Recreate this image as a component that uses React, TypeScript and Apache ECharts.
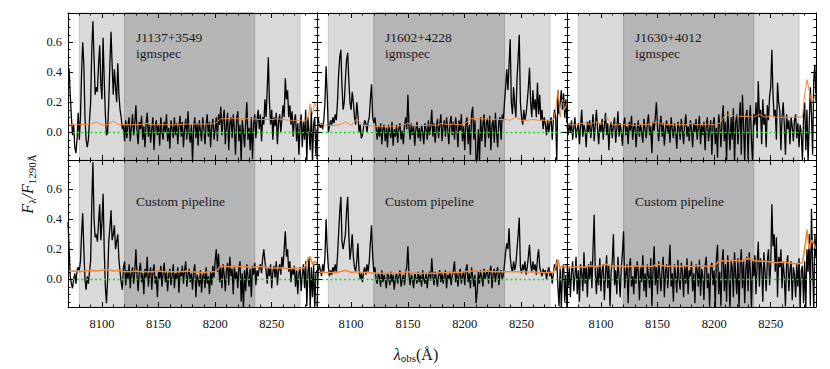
import React, { useEffect, useRef } from 'react';
import * as echarts from 'echarts';

// ---------- data ----------
const LAMBDA_MIN = 8070;
const LAMBDA_MAX = 8290;
const FLUX_STEP = 1; // Å per flux sample, starting at LAMBDA_MIN

const OBJECTS = ['J1137+3549', 'J1602+4228', 'J1630+4012'];
const SOURCES = ['igmspec', 'Custom pipeline'];

const LIGHT_BAND = [8080, 8275];
const DARK_BAND = [8120, 8235];

const X_MAJOR = [8100, 8150, 8200, 8250];
const X_MINOR = [8070, 8080, 8090, 8110, 8120, 8130, 8140, 8160, 8170, 8180, 8190, 8210, 8220, 8230, 8240, 8260, 8270, 8280, 8290];
const Y_MIN = -0.185;
const Y_MAX = 0.795;
const Y_MAJOR = [0, 0.2, 0.4, 0.6];
const Y_MINOR = [-0.15, -0.1, -0.05, 0.05, 0.1, 0.15, 0.25, 0.3, 0.35, 0.45, 0.5, 0.55, 0.65, 0.7, 0.75];

const FLUX_J1137_IGMSPEC = [
  0.43, 0.42, 0.25, 0.10, -0.02, 0.05, -0.10, -0.14, -0.05, 0.13,
  -0.05, 0.10, 0.40, 0.60, 0.45, 0.10, -0.05, -0.10, -0.05, 0.08,
  0.20, 0.55, 0.74, 0.50, 0.25, 0.30, 0.27, 0.45, 0.58, 0.32,
  0.22, 0.63, 0.35, 0.12, -0.02, 0.00, 0.20, 0.45, 0.67, 0.45,
  0.25, 0.42, 0.30, 0.20, 0.46, 0.25, 0.15, 0.10, 0.02, 0.05,
  -0.06, 0.08, -0.04, 0.05, 0.10, -0.06, 0.03, 0.12, -0.02, 0.06,
  0.18, 0.00, -0.08, 0.07, 0.02, 0.11, -0.05, 0.04, -0.10, 0.06,
  0.13, -0.03, 0.05, -0.07, 0.02, 0.10, -0.12, 0.04, 0.08, -0.02,
  0.05, -0.09, 0.10, 0.01, -0.05, 0.07, 0.00, 0.12, -0.06, 0.03,
  -0.11, 0.08, 0.02, -0.04, 0.10, -0.02, 0.06, -0.08, 0.04, 0.11,
  -0.03, 0.07, -0.10, 0.02, 0.09, -0.05, 0.14, 0.00, -0.07, 0.05,
  -0.20, 0.03, 0.10, -0.04, 0.06, -0.09, 0.08, 0.01, -0.06, 0.10,
  0.03, -0.08, 0.05, 0.12, -0.03, 0.07, -0.10, 0.04, 0.09, -0.05,
  0.02, 0.10, -0.06, 0.12, 0.05, 0.17, -0.02, 0.08, 0.15, -0.08,
  0.04, 0.13, -0.12, 0.06, 0.10, -0.04, 0.12, 0.02, -0.15, 0.09,
  0.14, -0.06, 0.05, -0.20, 0.08, 0.00, -0.10, 0.06, 0.20, -0.05,
  0.03, -0.12, 0.10, -0.18, 0.05, 0.12, -0.04, 0.08, 0.15, 0.02,
  0.12, -0.06, 0.10, 0.05, 0.22, 0.10, 0.28, 0.50, 0.20, 0.05,
  0.15, -0.05, 0.10, 0.04, 0.13, -0.08, 0.07, 0.12, 0.00, 0.09,
  0.18, 0.10, 0.36, 0.22, 0.28, 0.10, 0.18, 0.05, 0.14, -0.03,
  0.08, 0.12, -0.06, 0.06, -0.15, 0.04, 0.12, -0.10, 0.07, -0.05,
  0.15, -0.20, 0.10, 0.00, -0.12, 0.16, -0.20, 0.05, 0.10, -0.15,
  0.02,
];

const FLUX_J1602_IGMSPEC = [
  -0.18, 0.10, 0.05, 0.03, 0.06, 0.02, 0.08, 0.20, 0.44, 0.25,
  0.00, 0.04, 0.08, 0.05, 0.10, 0.06, 0.12, 0.08, 0.20, 0.38,
  0.50, 0.55, 0.30, 0.15, 0.20, 0.35, 0.48, 0.53, 0.35, 0.20,
  0.15, 0.27, 0.20, 0.10, 0.05, 0.20, 0.12, 0.00, 0.05, -0.04,
  -0.02, 0.04, 0.08, 0.06, 0.00, 0.07, 0.10, 0.22, 0.32, 0.10,
  0.06, 0.10, 0.03, -0.05, 0.04, -0.03, 0.06, -0.08, 0.02, 0.05,
  -0.06, 0.03, -0.10, 0.05, 0.00, -0.04, 0.07, -0.09, 0.02, -0.03,
  0.05, -0.07, 0.02, 0.06, -0.05, 0.01, -0.08, 0.04, 0.10, 0.02,
  0.25, 0.03, -0.05, 0.06, -0.02, 0.04, -0.09, 0.02, 0.07, -0.04,
  0.03, -0.06, 0.05, 0.00, -0.08, 0.06, 0.02, -0.05, 0.08, -0.02,
  0.04, 0.15, -0.03, 0.06, -0.07, 0.03, 0.09, -0.04, 0.05, 0.12,
  -0.06, 0.04, 0.08, -0.03, 0.10, 0.02, -0.08, 0.06, 0.11, -0.02,
  0.07, -0.05, 0.10, 0.03, -0.10, 0.08, 0.01, 0.12, -0.06, 0.04,
  -0.12, 0.06, 0.10, -0.08, 0.05, -0.15, 0.12, 0.17, -0.05, 0.08,
  -0.20, -0.18, 0.02, -0.20, 0.10, -0.06, 0.05, 0.12, -0.10, 0.06,
  0.09, -0.04, 0.11, -0.12, 0.05, 0.08, -0.07, 0.13, 0.00, -0.10,
  0.07, 0.10, -0.05, 0.12, 0.08, 0.20, 0.30, 0.42, 0.28, 0.45,
  0.62, 0.20, 0.12, 0.30, 0.18, 0.10, 0.35, 0.50, 0.65, 0.20,
  0.10, 0.05, 0.15, 0.08, 0.12, 0.20, 0.30, 0.43, 0.20, 0.10,
  0.28, 0.15, 0.22, 0.10, 0.33, 0.12, 0.25, 0.08, 0.15, 0.02,
  0.10, 0.05, -0.02, 0.08, 0.00, 0.06, 0.10, -0.05, 0.08, 0.15,
  0.10, -0.19, 0.28, 0.12, 0.20, 0.28, 0.15, 0.26, 0.10, 0.22,
  0.06,
];

const FLUX_J1630_IGMSPEC = [
  0.05, -0.02, 0.06, 0.00, 0.08, -0.05, 0.03, 0.10, -0.04, 0.02,
  0.06, -0.08, 0.04, 0.15, -0.03, 0.05, 0.01, -0.10, 0.07, 0.00,
  0.08, -0.04, 0.03, 0.12, -0.06, 0.05, 0.15, 0.02, -0.08, 0.06,
  0.00, 0.09, -0.05, 0.04, 0.13, -0.02, 0.06, -0.12, 0.03, 0.07,
  -0.04, 0.05, 0.10, -0.07, 0.02, 0.14, -0.03, 0.06, 0.00, -0.09,
  0.05, 0.10, -0.02, 0.04, -0.08, 0.07, 0.01, 0.11, -0.05, 0.03,
  0.06, -0.10, 0.02, 0.08, -0.03, 0.05, 0.00, -0.07, 0.09, 0.02,
  -0.04, 0.06, 0.12, -0.02, 0.04, -0.14, 0.07, 0.01, 0.10, 0.20,
  0.03, -0.06, 0.05, 0.11, -0.03, 0.06, -0.09, 0.02, 0.08, -0.01,
  0.05, -0.07, 0.10, 0.02, -0.04, 0.06, 0.00, -0.11, 0.07, 0.03,
  -0.05, 0.09, 0.01, -0.08, 0.05, 0.12, -0.03, 0.04, -0.06, 0.08,
  0.02, -0.10, 0.06, 0.00, 0.09, -0.05, 0.03, 0.11, -0.08, 0.05,
  -0.02, 0.07, -0.12, 0.04, 0.10, -0.06, 0.02, 0.08, -0.15, 0.05,
  0.10, -0.08, 0.03, -0.17, 0.12, 0.05, -0.10, 0.08, 0.18, -0.06,
  0.07, -0.20, 0.14, 0.02, -0.12, 0.10, -0.05, 0.16, -0.20, 0.06,
  0.12, -0.08, 0.04, 0.20, -0.15, 0.25, 0.05, -0.20, 0.10, 0.15,
  -0.18, 0.08, 0.18, -0.06, -0.20, 0.12, 0.05, 0.20, -0.04, 0.34,
  0.10, 0.15, -0.08, 0.22, 0.05, 0.12, -0.10, 0.18, 0.08, 0.24,
  0.30, 0.55, 0.25, 0.10, 0.15, -0.05, 0.33, 0.20, 0.14, -0.12,
  0.10, 0.20, 0.05, -0.15, 0.12, 0.02, 0.08, -0.08, 0.10, 0.04,
  -0.06, 0.08, 0.12, -0.04, 0.06, -0.10, 0.05, 0.00, -0.20, 0.10,
  0.20, -0.12, 0.15, -0.20, 0.05, 0.30, 0.12, -0.15, 0.35, 0.45,
  0.20,
];

const FLUX_J1137_CUSTOM = [
  0.38, 0.20, 0.02, -0.03, -0.06, 0.00, 0.04, -0.03, 0.06, 0.08,
  0.06, 0.12, 0.30, 0.44, 0.20, 0.00, -0.07, 0.02, -0.03, 0.05,
  0.12, 0.50, 0.78, 0.40, 0.28, 0.30, 0.25, 0.38, 0.50, 0.26,
  0.38, 0.57, 0.20, -0.05, -0.16, 0.00, 0.25, 0.34, 0.46, 0.26,
  0.30, 0.36, 0.20, 0.25, 0.30, 0.13, 0.05, -0.02, -0.07, 0.08,
  0.12, -0.04, 0.06, 0.00, 0.10, -0.06, 0.04, 0.08, -0.03, 0.05,
  0.20, 0.02, -0.08, 0.06, 0.11, -0.02, 0.04, -0.10, 0.07, 0.01,
  0.15, -0.05, 0.03, 0.08, -0.07, 0.05, 0.10, -0.03, 0.02, -0.12,
  0.06, 0.00, 0.09, -0.05, 0.04, 0.11, -0.02, 0.05, -0.08, 0.03,
  0.07, -0.04, 0.02, 0.10, -0.06, 0.04, 0.00, 0.08, -0.09, 0.05,
  0.02, 0.09, -0.03, 0.06, 0.12, -0.05, 0.03, 0.07, -0.02, 0.04,
  -0.07, 0.05, 0.10, -0.12, 0.03, 0.00, -0.05, 0.06, -0.09, 0.02,
  0.04, -0.06, 0.08, -0.03, 0.02, -0.10, 0.05, -0.04, 0.09, 0.01,
  0.12, 0.20, 0.05, 0.17, -0.02, 0.08, -0.06, 0.10, 0.03, -0.08,
  0.06, 0.11, -0.04, 0.15, 0.02, 0.07, -0.10, 0.09, 0.00, 0.05,
  -0.06, 0.08, 0.12, -0.15, 0.04, -0.20, 0.06, -0.08, 0.10, 0.02,
  -0.05, 0.07, -0.12, 0.09, 0.03, 0.11, -0.04, 0.06, 0.02, 0.08,
  0.10, 0.04, 0.14, 0.20, 0.12, 0.06, -0.03, 0.08, 0.02, 0.10,
  -0.06, 0.05, 0.09, 0.01, 0.12, -0.04, 0.06, 0.10, 0.03, 0.15,
  0.08, 0.20, 0.32, 0.15, 0.20, 0.05, 0.12, -0.02, 0.07, 0.03,
  0.09, -0.05, 0.06, -0.10, 0.04, 0.08, -0.08, 0.03, 0.10, -0.06,
  0.12, -0.18, 0.05, 0.14, -0.20, 0.08, -0.12, 0.10, -0.20, 0.04,
  0.06,
];

const FLUX_J1602_CUSTOM = [
  -0.18, 0.04, 0.10, 0.06, 0.02, 0.10, 0.05, 0.15, 0.40, 0.20,
  0.08, 0.02, 0.06, 0.03, 0.08, 0.05, 0.10, 0.04, 0.15, 0.30,
  0.45, 0.55, 0.25, 0.20, 0.25, 0.30, 0.45, 0.55, 0.30, 0.13,
  0.20, 0.30, 0.15, 0.08, 0.05, 0.12, 0.24, 0.06, 0.00, 0.04,
  -0.02, 0.05, 0.08, 0.03, 0.10, 0.05, 0.12, 0.25, 0.36, 0.15,
  0.05, 0.08, 0.00, -0.03, 0.04, 0.02, -0.05, 0.06, -0.02, 0.03,
  0.00, -0.06, 0.04, 0.02, -0.04, 0.05, -0.02, 0.03, -0.07, 0.01,
  0.04, -0.03, 0.02, 0.06, -0.05, 0.00, 0.03, -0.04, 0.05, 0.08,
  0.22, 0.02, -0.04, 0.03, 0.00, -0.06, 0.04, 0.01, -0.03, 0.05,
  -0.02, 0.03, -0.05, 0.06, 0.00, -0.03, 0.04, -0.06, 0.02, 0.05,
  -0.01, 0.14, 0.02, -0.04, 0.05, 0.01, -0.05, 0.03, 0.06, -0.02,
  0.04, -0.03, 0.02, 0.06, -0.06, 0.03, 0.00, 0.05, -0.04, 0.02,
  0.06, 0.12, -0.02, 0.04, -0.05, 0.03, 0.07, -0.03, 0.02, 0.05,
  -0.04, 0.06, 0.10, -0.02, 0.04, -0.06, 0.08, 0.02, -0.05, 0.03,
  -0.16, -0.08, 0.05, -0.03, 0.06, 0.02, -0.05, 0.07, 0.00, 0.04,
  0.06, -0.03, 0.05, 0.09, -0.06, 0.03, 0.07, -0.02, 0.05, 0.08,
  -0.04, 0.04, 0.06, 0.00, 0.03, 0.10, 0.18, 0.24, 0.20, 0.34,
  0.15, 0.08, 0.05, 0.12, 0.06, 0.10, 0.20, 0.30, 0.41, 0.08,
  0.04, 0.10, 0.06, 0.12, 0.03, 0.08, 0.15, 0.23, 0.10, 0.05,
  0.12, 0.06, 0.10, 0.03, 0.14, 0.20, 0.08, 0.05, 0.02, 0.07,
  0.04, 0.06, 0.00, 0.05, 0.08, 0.02, 0.05, -0.03, 0.04, 0.10,
  0.06, 0.13, -0.05, -0.18, 0.08, -0.20, 0.05, 0.10, -0.15, 0.03,
  -0.20,
];

const FLUX_J1630_CUSTOM = [
  0.10, -0.05, 0.08, -0.12, 0.05, 0.12, -0.08, 0.02, 0.15, -0.10,
  0.06, -0.15, 0.10, 0.04, -0.08, 0.18, -0.03, 0.08, -0.12, 0.10,
  0.00, 0.12, -0.06, 0.20, 0.43, 0.05, -0.10, 0.08, -0.04, 0.14,
  -0.08, 0.06, 0.10, -0.14, 0.03, 0.16, -0.06, 0.09, -0.18, 0.05,
  0.12, 0.30, -0.04, 0.06, -0.10, 0.15, 0.02, -0.12, 0.08, 0.18,
  0.32, -0.06, 0.04, 0.10, -0.16, 0.07, 0.14, -0.05, 0.02, -0.10,
  0.09, -0.03, 0.12, 0.05, -0.14, 0.08, -0.02, 0.16, -0.08, 0.04,
  -0.12, 0.10, 0.02, -0.06, 0.14, -0.18, 0.06, 0.22, -0.04, 0.08,
  -0.10, 0.12, 0.03, -0.08, 0.06, 0.15, -0.12, 0.05, 0.10, -0.06,
  0.08, 0.23, -0.05, 0.04, -0.15, 0.10, 0.02, -0.09, 0.13, 0.00,
  -0.07, 0.11, 0.05, -0.12, 0.09, -0.03, 0.14, -0.10, 0.06, 0.02,
  0.12, -0.08, 0.04, -0.16, 0.10, 0.06, -0.05, 0.13, -0.11, 0.07,
  0.02, -0.14, 0.09, 0.15, -0.06, 0.04, -0.19, 0.08, 0.11, -0.04,
  0.06, -0.20, 0.14, 0.23, -0.10, 0.05, -0.18, 0.12, 0.20, -0.08,
  0.10, -0.15, 0.16, 0.04, -0.20, 0.12, 0.08, -0.12, 0.18, 0.02,
  -0.10, 0.14, -0.20, 0.09, 0.20, -0.06, 0.12, -0.16, 0.07, 0.15,
  -0.08, 0.18, 0.05, -0.20, 0.12, 0.02, 0.16, -0.10, 0.10, 0.25,
  -0.05, 0.14, 0.08, -0.15, 0.18, 0.04, -0.08, 0.12, 0.20, -0.04,
  0.10, 0.50, 0.22, 0.30, 0.05, 0.28, -0.12, 0.15, 0.08, 0.20,
  -0.06, 0.12, 0.02, -0.18, 0.10, 0.16, -0.08, 0.06, 0.12, -0.14,
  0.08, 0.03, -0.12, 0.10, -0.05, 0.14, -0.20, 0.06, 0.09, -0.16,
  0.12, -0.20, 0.20, 0.05, 0.30, -0.18, 0.47, 0.10, -0.20, 0.30,
  0.15,
];

// wavelengths of the error-spectrum samples
const ERR_WAVE = [
  8070, 8075, 8080, 8085, 8090, 8095, 8100, 8105, 8110, 8115,
  8120, 8125, 8130, 8135, 8140, 8145, 8150, 8155, 8160, 8165,
  8170, 8175, 8180, 8185, 8190, 8195, 8200, 8205, 8210, 8215,
  8220, 8225, 8230, 8235, 8240, 8245, 8250, 8255, 8260, 8265,
  8270, 8275, 8278, 8280, 8282, 8284, 8286, 8288, 8290,
];

const ERR_J1137_IGMSPEC = [
  0.05, 0.05, 0.05, 0.052, 0.055, 0.07, 0.05, 0.05, 0.075, 0.05,
  0.05, 0.05, 0.05, 0.052, 0.06, 0.05, 0.05, 0.05, 0.05, 0.05,
  0.052, 0.055, 0.055, 0.055, 0.055, 0.055, 0.058, 0.09, 0.09, 0.095,
  0.09, 0.09, 0.09, 0.088, 0.085, 0.085, 0.085, 0.09, 0.085, 0.08,
  0.08, 0.08, 0.08, 0.08, 0.09, 0.19, 0.12, 0.2, 0.15,
];
const ERR_J1602_IGMSPEC = [
  0.06, 0.05, 0.045, 0.045, 0.05, 0.07, 0.045, 0.09, 0.045, 0.045,
  0.04, 0.04, 0.04, 0.04, 0.04, 0.045, 0.06, 0.045, 0.045, 0.045,
  0.05, 0.045, 0.06, 0.05, 0.055, 0.05, 0.055, 0.09, 0.09, 0.09,
  0.088, 0.088, 0.085, 0.085, 0.08, 0.1, 0.08, 0.08, 0.085, 0.08,
  0.08, 0.08, 0.08, 0.15, 0.28, 0.1, 0.22, 0.15, 0.2,
];
const ERR_J1630_IGMSPEC = [
  0.05, 0.048, 0.05, 0.065, 0.05, 0.07, 0.05, 0.1, 0.05, 0.05,
  0.05, 0.05, 0.045, 0.05, 0.05, 0.06, 0.07, 0.05, 0.05, 0.05,
  0.05, 0.05, 0.06, 0.05, 0.05, 0.055, 0.05, 0.06, 0.12, 0.11,
  0.11, 0.105, 0.105, 0.1, 0.12, 0.1, 0.11, 0.1, 0.1, 0.1,
  0.1, 0.1, 0.1, 0.25, 0.35, 0.28, 0.2, 0.22, 0.26,
];
const ERR_J1137_CUSTOM = [
  0.05, 0.055, 0.05, 0.055, 0.06, 0.055, 0.06, 0.065, 0.055, 0.06,
  0.05, 0.05, 0.055, 0.05, 0.05, 0.05, 0.055, 0.05, 0.05, 0.05,
  0.05, 0.055, 0.05, 0.045, 0.045, 0.05, 0.05, 0.085, 0.085, 0.082,
  0.085, 0.085, 0.08, 0.08, 0.085, 0.08, 0.075, 0.075, 0.075, 0.07,
  0.075, 0.07, 0.075, 0.09, 0.14, 0.15, 0.1, 0.12, 0.1,
];
const ERR_J1602_CUSTOM = [
  0.05, 0.045, 0.045, 0.045, 0.05, 0.06, 0.045, 0.05, 0.045, 0.045,
  0.04, 0.04, 0.04, 0.04, 0.04, 0.045, 0.05, 0.04, 0.04, 0.04,
  0.04, 0.04, 0.045, 0.045, 0.045, 0.045, 0.05, 0.055, 0.055, 0.05,
  0.055, 0.05, 0.05, 0.05, 0.05, 0.05, 0.05, 0.048, 0.048, 0.045,
  0.045, 0.045, 0.045, 0.08, 0.13, 0.07, 0.09, 0.08, 0.1,
];
const ERR_J1630_CUSTOM = [
  0.085, 0.08, 0.085, 0.08, 0.09, 0.085, 0.09, 0.1, 0.085, 0.09,
  0.085, 0.085, 0.09, 0.085, 0.09, 0.085, 0.1, 0.09, 0.085, 0.09,
  0.085, 0.09, 0.085, 0.09, 0.09, 0.085, 0.09, 0.125, 0.12, 0.125,
  0.125, 0.12, 0.14, 0.125, 0.12, 0.12, 0.115, 0.11, 0.115, 0.11,
  0.105, 0.105, 0.11, 0.2, 0.33, 0.2, 0.26, 0.24, 0.2,
];

// ---------- layout / style ----------
const COL_LEFT = [68, 317, 567];
const COL_WIDTH = [249, 250, 249];
const ROW_TOP = [13, 160];
const ROW_HEIGHT = 147;
const SERIF = 'Liberation Serif';

const PANELS = [
  { flux: FLUX_J1137_IGMSPEC, err: ERR_J1137_IGMSPEC },
  { flux: FLUX_J1602_IGMSPEC, err: ERR_J1602_IGMSPEC },
  { flux: FLUX_J1630_IGMSPEC, err: ERR_J1630_IGMSPEC },
  { flux: FLUX_J1137_CUSTOM, err: ERR_J1137_CUSTOM },
  { flux: FLUX_J1602_CUSTOM, err: ERR_J1602_CUSTOM },
  { flux: FLUX_J1630_CUSTOM, err: ERR_J1630_CUSTOM },
];

function xAxisDef(gi: number, pos: string, ticks: number[], len: number, line: boolean, labels: boolean) {
  return {
    type: 'value', gridIndex: gi, position: pos, min: LAMBDA_MIN, max: LAMBDA_MAX, z: 10,
    axisLine: { show: line, onZero: false, lineStyle: { color: '#000', width: 1 } },
    axisTick: { show: true, inside: true, length: len, customValues: ticks, lineStyle: { color: '#000', width: 1 } },
    axisLabel: {
      show: labels, customValues: X_MAJOR, margin: 10, color: '#111', fontSize: 12.5, fontFamily: SERIF,
      formatter: (v: number) => String(Math.round(v)),
    },
    splitLine: { show: false },
  };
}
function yAxisDef(gi: number, pos: string, ticks: number[], len: number, line: boolean, labels: boolean) {
  return {
    type: 'value', gridIndex: gi, position: pos, min: Y_MIN, max: Y_MAX, z: 10,
    axisLine: { show: line, onZero: false, lineStyle: { color: '#000', width: 1 } },
    axisTick: { show: true, inside: true, length: len, customValues: ticks, lineStyle: { color: '#000', width: 1 } },
    axisLabel: {
      show: labels, customValues: Y_MAJOR, margin: 6, color: '#111', fontSize: 12.5, fontFamily: SERIF,
      formatter: (v: number) => v.toFixed(1),
    },
    splitLine: { show: false },
  };
}

function buildOption() {
  const grid: any[] = [];
  const xAxis: any[] = [];
  const yAxis: any[] = [];
  const series: any[] = [];
  const elements: any[] = [];

  PANELS.forEach((p, i) => {
    const row = Math.floor(i / 3);
    const col = i % 3;
    grid.push({ left: COL_LEFT[col], top: ROW_TOP[row], width: COL_WIDTH[col], height: ROW_HEIGHT, show: false });
    xAxis.push(xAxisDef(i, 'bottom', X_MAJOR, 5, true, row === 1));
    xAxis.push(xAxisDef(i, 'bottom', X_MINOR, 2.5, false, false));
    xAxis.push(xAxisDef(i, 'top', X_MAJOR, 5, true, false));
    xAxis.push(xAxisDef(i, 'top', X_MINOR, 2.5, false, false));
    yAxis.push(yAxisDef(i, 'left', Y_MAJOR, 5, true, col === 0));
    yAxis.push(yAxisDef(i, 'left', Y_MINOR, 2.5, false, false));
    yAxis.push(yAxisDef(i, 'right', Y_MAJOR, 5, true, false));
    yAxis.push(yAxisDef(i, 'right', Y_MINOR, 2.5, false, false));
    const ax = 4 * i;

    series.push({
      type: 'line', xAxisIndex: ax, yAxisIndex: ax, data: [], silent: true, z: 1,
      markArea: {
        silent: true,
        data: [
          [{ xAxis: LIGHT_BAND[0], itemStyle: { color: '#d9d9d9', borderColor: '#c6c6c6', borderWidth: 1 } }, { xAxis: LIGHT_BAND[1] }],
          [{ xAxis: DARK_BAND[0], itemStyle: { color: '#b5b5b5', borderColor: '#a4a4a4', borderWidth: 1 } }, { xAxis: DARK_BAND[1] }],
        ],
      },
    });
    series.push({
      type: 'line', xAxisIndex: ax, yAxisIndex: ax, silent: true, z: 3,
      data: p.flux.map((v, k) => [LAMBDA_MIN + k * FLUX_STEP, v]),
      showSymbol: false, symbol: 'none',
      lineStyle: { color: '#000', width: 1.3 },
    });
    series.push({
      type: 'line', xAxisIndex: ax, yAxisIndex: ax, silent: true, z: 4,
      data: p.err.map((v, k) => [ERR_WAVE[k], v]),
      showSymbol: false, symbol: 'none',
      lineStyle: { color: '#f0883a', width: row === 1 ? 1.6 : 1 },
      markLine: {
        silent: true, symbol: 'none', label: { show: false },
        lineStyle: { color: '#1fdd1f', type: [2, 2.5], width: 1.4 },
        data: [{ yAxis: 0 }],
      },
    });

    const tx = COL_LEFT[col] + 68;
    if (row === 0) {
      elements.push({
        type: 'text', x: tx, y: 30, z: 20, silent: true,
        style: {
          text: OBJECTS[col] + '\n' + SOURCES[0], fill: '#1a1a1a', fontSize: 13.5, fontFamily: SERIF,
          lineHeight: 15.5, align: 'left', verticalAlign: 'top',
        },
      });
    } else {
      elements.push({
        type: 'text', x: tx, y: 201, z: 20, silent: true,
        style: {
          text: SOURCES[1], fill: '#1a1a1a', fontSize: 13.5, fontFamily: SERIF,
          align: 'left', verticalAlign: 'middle',
        },
      });
    }
  });

  // axis titles
  elements.push({
    type: 'text', x: 416, y: 354, silent: true,
    style: {
      text: '{i|λ}{s|obs}{n|(Å)}', align: 'center', verticalAlign: 'middle',
      rich: {
        i: { fontSize: 16, fontStyle: 'italic', fontFamily: SERIF, fill: '#111' },
        s: { fontSize: 11, fontFamily: SERIF, fill: '#111', padding: [8, 0, 0, 0] },
        n: { fontSize: 16, fontFamily: SERIF, fill: '#111' },
      },
    },
  });
  elements.push({
    type: 'text', x: 27, y: 184, rotation: Math.PI / 2, silent: true,
    style: {
      text: '{i|F}{s|λ}{n|/}{i|F}{s|1290Å}', align: 'center', verticalAlign: 'middle',
      rich: {
        i: { fontSize: 16, fontStyle: 'italic', fontFamily: SERIF, fill: '#111' },
        s: { fontSize: 11, fontFamily: SERIF, fill: '#111', padding: [9, 0, 0, 0] },
        n: { fontSize: 16, fontStyle: 'italic', fontFamily: SERIF, fill: '#111' },
      },
    },
  });

  return { animation: false, grid, xAxis, yAxis, series, graphic: { elements } };
}

export default function App() {
  const ref = useRef<HTMLDivElement>(null);
  useEffect(() => {
    if (!ref.current) return;
    const chart = echarts.init(ref.current, undefined, { renderer: 'svg' });
    chart.setOption(buildOption() as any);
    return () => chart.dispose();
  }, []);
  return (
    <div
      ref={ref}
      style={{ position: 'fixed', left: 0, top: 0, width: 830, height: 369, background: '#fff' }}
    />
  );
}
